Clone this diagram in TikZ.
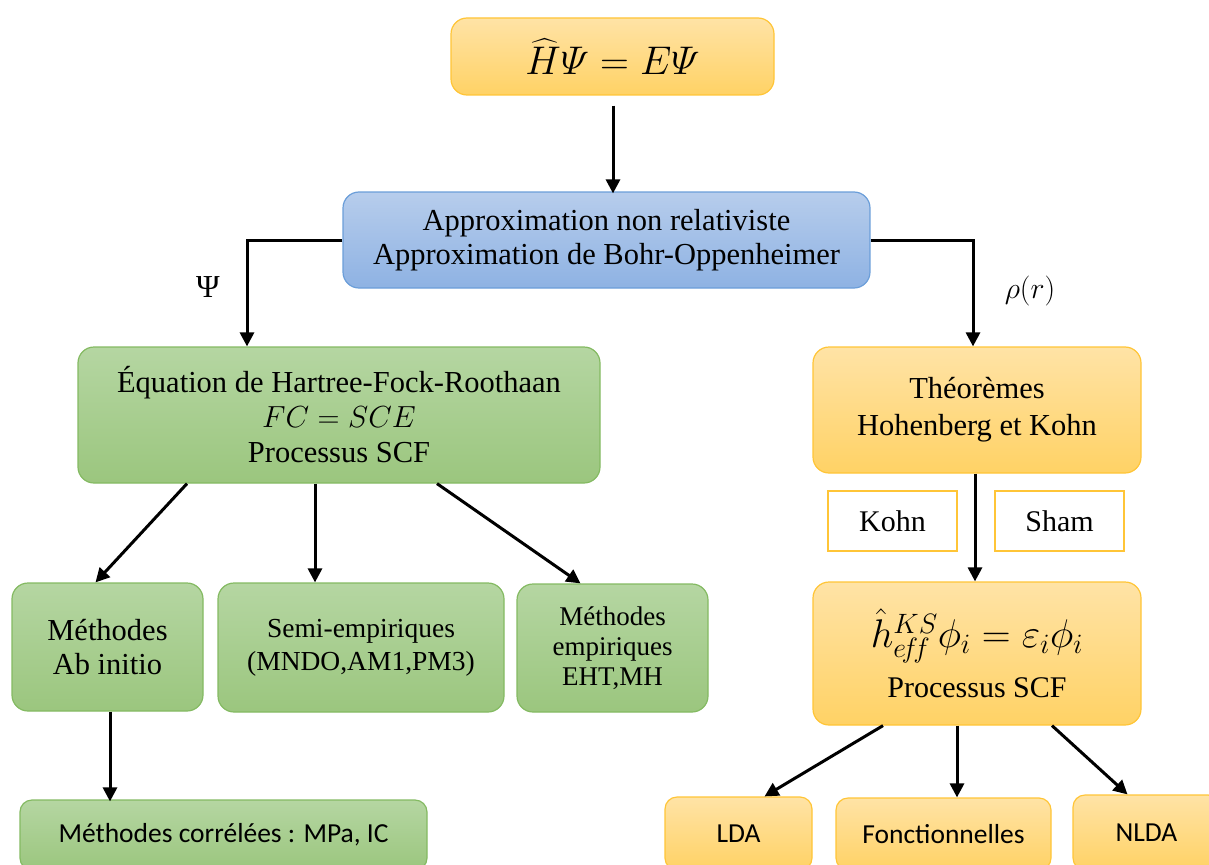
\documentclass[tikz,border=0pt]{standalone}
\usepackage{fix-cm}
\usepackage{amsmath}
\usepackage{fontspec}
\setmainfont{Liberation Serif}
\newfontfamily\calib{Carlito}
\usetikzlibrary{arrows.meta,calc}
\definecolor{gtop}{HTML}{B5D6A2}
\definecolor{gbot}{HTML}{9BC67E}
\definecolor{gline}{HTML}{84BA62}
\definecolor{otop}{HTML}{FFE3A6}
\definecolor{obot}{HTML}{FFD265}
\definecolor{oline}{HTML}{FFC537}
\definecolor{btop}{HTML}{B7CDEC}
\definecolor{bbot}{HTML}{8EB2E3}
\definecolor{bline}{HTML}{6B9ED9}
\tikzset{
  base/.style={rounded corners=16pt, line width=1.2pt, align=center, inner sep=0pt, text=black},
  gbox/.style={base, draw=gline, top color=gtop, bottom color=gbot},
  obox/.style={base, draw=oline, top color=otop, bottom color=obot},
  bbox/.style={base, draw=bline, top color=btop, bottom color=bbot},
  wbox/.style={draw=oline, line width=1.5pt, fill=white, inner sep=0pt, align=center},
  conn/.style={line width=3pt, -{Triangle[length=14pt,width=14pt]}},
  serif/.style={font=\fontsize{30.5}{34}\selectfont},
  sans/.style={font=\calib\fontsize{27.5}{32}\selectfont},
}
\begin{document}
\begin{tikzpicture}[x=1pt,y=1pt]
\useasboundingbox (0,0) rectangle (1209,-864);
\clip (0,0) rectangle (1209,-864);
% boxes
\node[obox, minimum width=323pt, minimum height=77pt, font=\fontsize{40}{44}\selectfont] (top) at (612.5,-56.5) {$\widehat{H}\varPsi = E\varPsi$};
\node[bbox, serif, minimum width=527pt, minimum height=96pt] (blue) at (606.5,-240) {Approximation non relativiste\\Approximation de Bohr-Oppenheimer};
\node[gbox, minimum width=522pt, minimum height=136pt, font=\fontsize{30.5}{35}\selectfont] (hf) at (339,-415) {Équation de Hartree-Fock-Roothaan\\$FC = SCE$\\Processus SCF};
\node[obox, minimum width=328pt, minimum height=126pt, font=\fontsize{30.5}{37}\selectfont] (thm) at (977,-410) {Théorèmes\\Hohenberg et Kohn};
\node[wbox, minimum width=129pt, minimum height=60pt, font=\fontsize{30}{34}\selectfont] (kohn) at (892.5,-521) {Kohn};
\node[wbox, minimum width=129pt, minimum height=60pt, font=\fontsize{30}{34}\selectfont] (sham) at (1059.5,-521) {Sham};
\node[obox, minimum width=328pt, minimum height=143pt, font=\fontsize{30}{36}\selectfont] (ks) at (977,-653.5) {\fontsize{40}{46}\selectfont$\hat{h}^{KS}_{e\!f\!f}\phi_i = \varepsilon_i\phi_i$\\[14pt]Processus SCF};
\node[gbox, minimum width=191pt, minimum height=128pt, font=\fontsize{30.5}{34}\selectfont] (ab) at (107.5,-647) {Méthodes\\Ab initio};
\node[gbox, minimum width=286pt, minimum height=129pt, font=\fontsize{27.5}{33}\selectfont] (semi) at (361,-647.5) {Semi-empiriques\\(MNDO,AM1,PM3)};
\node[gbox, minimum width=191pt, minimum height=128pt, font=\fontsize{27}{30}\selectfont] (emp) at (612.5,-648) {Méthodes\\empiriques\\EHT,MH};
\node[gbox, sans, rounded corners=12pt, minimum width=407pt, minimum height=70pt] (corr) at (223.5,-835) {Méthodes corrélées : MPa, IC};
\node[obox, sans, rounded corners=12pt, minimum width=147pt, minimum height=73pt] (lda) at (738.5,-833.5) {LDA};
\node[obox, sans, rounded corners=12pt, minimum width=215pt, minimum height=72pt] (fonc) at (943.5,-834) {Fonctionnelles};
\node[obox, sans, rounded corners=12pt, minimum width=147pt, minimum height=75pt] (nlda) at (1146.5,-832.5) {NLDA};
% labels
\node[font=\fontsize{32}{34}\selectfont] (psi) at (208,-287) {Ψ};
\node[font=\fontsize{30}{32}\selectfont] (rho) at (1030,-291) {$\rho(r)$};
% connectors
\draw[conn] ($(top.south)+(0.5,-10)$) -- ($(blue.north)+(6.5,-2)$);
\draw[conn] (blue.west) -| ($(hf.north)+(-92,0)$);
\draw[conn] (blue.east) -| ($(thm.north)+(-4,0)$);
\draw[conn] ($(thm.south)+(-2,0)$) -- ($(ks.north)+(-2,0)$);
\draw[conn] ($(hf.south)+(-152,0)$) -- ($(ab.north)+(-12,0)$);
\draw[conn] ($(hf.south)+(-24,0)$) -- ($(semi.north)+(-46,0)$);
\draw[conn] ($(hf.south)+(98,0)$) -- ($(emp.north)+(-32,0)$);
\draw[conn] ($(ab.south)+(2.5,0)$) -- ($(corr.north)+(-113.5,-2)$);
\draw[conn] ($(ks.south)+(-94,0)$) -- ($(lda.north)+(26,0)$);
\draw[conn] ($(ks.south)+(-20,0)$) -- ($(fonc.north)+(13.5,0)$);
\draw[conn] ($(ks.south)+(75,0)$) -- ($(nlda.north)+(-19,0)$);
\end{tikzpicture}
\end{document}
